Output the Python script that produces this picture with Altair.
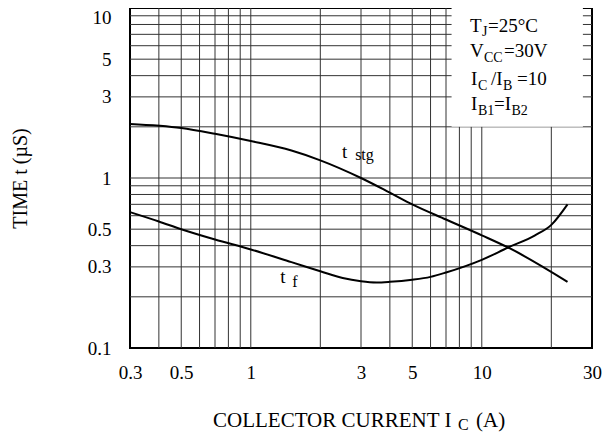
import altair as alt
import pandas as pd

# ---- data ----
stg_ic = [0.3, 0.5, 0.7, 1.0, 1.5, 2.0, 3.0, 4.0, 5.0, 7.0, 10.0, 13.0, 23.5]
stg_t = [2.08, 1.97, 1.82, 1.65, 1.45, 1.27, 1.0, 0.82, 0.70, 0.57, 0.46, 0.39, 0.245]

f_ic = [0.3, 0.4, 0.5, 0.7, 1.0, 1.5, 2.0, 2.5, 3.0, 3.5, 4.0, 5.0, 6.0, 7.0, 10.0, 13.0, 17.0, 20.0, 23.5]
f_t = [0.63, 0.555, 0.50, 0.435, 0.38, 0.32, 0.283, 0.258, 0.247, 0.243, 0.245, 0.252, 0.262, 0.278, 0.33, 0.39, 0.46, 0.53, 0.70]

x_ticks = [0.3, 0.5, 1, 3, 5, 10, 30]
y_ticks = [0.1, 0.3, 0.5, 1, 3, 5, 10]
x_grid = [0.4, 0.5, 0.6, 0.7, 0.8, 0.9, 1, 2, 3, 4, 5, 6, 7, 8, 9, 10, 20]
y_grid = [0.2, 0.3, 0.4, 0.5, 0.6, 0.7, 0.8, 0.9, 1, 2, 3, 4, 5, 6, 7, 8, 9]

# conditions box (covers the grid in the upper right)
box_x = [7.4]
box_x2 = [27.4]
box_y = [2.0]
box_y2 = [10.0]

# text pieces (main text + subscripts), anchored in data units
ann_text = ["T", "J", "=25°C",
            "V", "CC", "=30V",
            "I", "C", "/I", "B", "=10",
            "I", "B1", "=I", "B2",
            "t", "stg", "t", "f",
            "COLLECTOR CURRENT I", "C", "(A)"]
ann_x = [8.89, 10.02, 10.64,
         8.89, 10.22, 12.48,
         8.98, 9.62, 10.96, 12.35, 14.21,
         8.98, 9.62, 11.30, 13.45,
         2.48, 2.83, 1.34, 1.51,
         0.686, 7.88, 9.44]
ann_y = [7.22, 6.84, 7.22,
         5.15, 4.81, 5.15,
         3.52, 3.29, 3.52, 3.29, 3.52,
         2.51, 2.35, 2.51, 2.35,
         1.31, 1.27, 0.241, 0.228,
         0.0343, 0.033, 0.0343]
ann_size = [19, 14, 19,
            19, 14, 19,
            19, 14, 19, 14, 19,
            19, 14, 19, 14,
            19, 16, 19, 16,
            21, 16, 21]

FONT = "Liberation Serif"

xs = alt.Scale(type="log", domain=[0.3, 30], nice=False)
ys = alt.Scale(type="log", domain=[0.1, 10], nice=False)

x_axis = alt.Axis(
    values=x_ticks, grid=False, ticks=False, domain=False, labelFlush=False,
    labelFont=FONT, labelFontSize=19, labelColor="black", labelPadding=15,
    labelExpr="'' + datum.value", title=None)
y_axis = alt.Axis(
    values=y_ticks, grid=False, ticks=False, domain=False, labelFlush=False,
    labelFont=FONT, labelFontSize=19, labelColor="black", labelPadding=19,
    labelExpr="'' + datum.value",
    labelBaseline={"condition": {"test": "datum.value >= 10", "value": "top"}, "value": "middle"},
    title="TIME t (µS)", titleFont=FONT, titleFontSize=20, titleFontWeight="normal",
    titleColor="black", titleAngle=270, titleX=-110, titleY=170,
    titleAlign="center", titleBaseline="middle")

curves = pd.DataFrame({
    "ic": stg_ic + f_ic,
    "t": stg_t + f_t,
    "s": ["stg"] * len(stg_ic) + ["f"] * len(f_ic),
})

vgrid = alt.Chart(pd.DataFrame({"x": x_grid})).mark_rule(color="#333", strokeWidth=1).encode(
    x=alt.X("x:Q", scale=xs, axis=x_axis)
)
hgrid = alt.Chart(pd.DataFrame({"y": y_grid})).mark_rule(color="#333", strokeWidth=1).encode(
    y=alt.Y("y:Q", scale=ys, axis=y_axis)
)
box = alt.Chart(pd.DataFrame({"x": box_x, "x2": box_x2, "y": box_y, "y2": box_y2})).mark_rect(
    fill="white", strokeWidth=0
).encode(
    x=alt.X("x:Q", scale=xs, axis=x_axis), x2="x2:Q",
    y=alt.Y("y:Q", scale=ys, axis=y_axis), y2="y2:Q",
)

lines = alt.Chart(curves).mark_line(color="black", strokeWidth=2, interpolate="monotone").encode(
    x=alt.X("ic:Q", scale=xs, axis=x_axis),
    y=alt.Y("t:Q", scale=ys, axis=y_axis),
    detail="s:N",
)

texts = alt.Chart(pd.DataFrame({"txt": ann_text, "x": ann_x, "y": ann_y, "fs": ann_size})).mark_text(
    align="left", baseline="alphabetic", font=FONT, color="black"
).encode(
    x=alt.X("x:Q", scale=xs, axis=x_axis),
    y=alt.Y("y:Q", scale=ys, axis=y_axis),
    text="txt:N",
    size=alt.Size("fs:Q", scale=None),
)

chart = alt.layer(vgrid, hgrid, box, lines, texts).properties(
    width=462, height=340,
    padding={"left": 122, "top": 0, "right": 13, "bottom": 89},
    autosize=alt.AutoSizeParams(type="none"),
).configure(
    background="white"
).configure_view(
    stroke="black", strokeWidth=2
)

chart.save("out.html", embed_options={"renderer": "svg", "actions": False})
